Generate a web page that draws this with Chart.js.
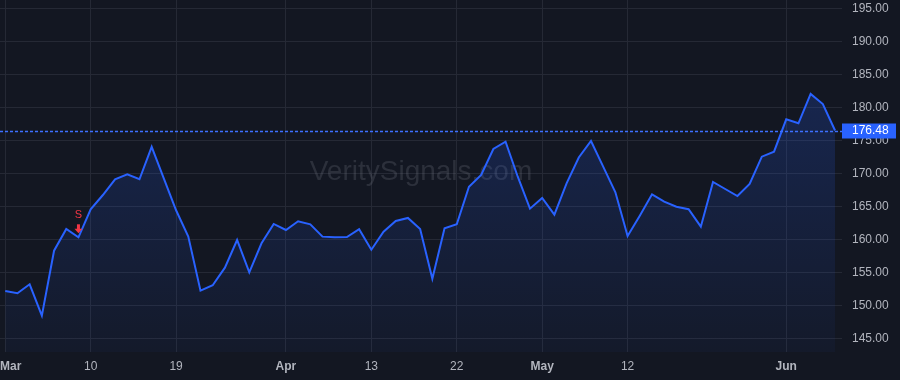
<!DOCTYPE html>
<html>
<head>
<meta charset="utf-8">
<script src="https://cdn.jsdelivr.net/npm/chart.js@4.4.1/dist/chart.umd.min.js"></script>
<style>
    html, body { margin: 0; padding: 0; background: #131722; }
</style>
</head>
<body>
<canvas id="myChart" width="900" height="380"></canvas>
<script>
// daily closes, trading days from Mar 1 to Jun 7
const prices = [
    152.17, 151.82, 153.18, 148.43, 158.27, 161.56, 160.30, 164.55, 166.71, 169.09,
    169.85, 169.09, 174.00, 169.20, 164.40, 160.40, 152.21, 153.03, 155.70, 159.89,
    155.00, 159.39, 162.32, 161.41, 162.73, 162.27, 160.40, 160.30, 160.35, 161.52,
    158.42, 161.15, 162.77, 163.23, 161.56, 154.03, 161.67, 162.27, 167.97, 169.74,
    173.68, 174.79, 169.48, 164.64, 166.26, 163.73, 168.48, 172.40, 174.89, 171.00,
    167.12, 160.50, 163.58, 166.82, 165.70, 164.94, 164.55, 161.91, 168.68, 167.62,
    166.56, 168.38, 172.52, 173.27, 178.18, 177.58, 182.02, 180.50, 176.48
];

// x-axis labels sit on these trading-day indexes
const tickIdx = [0, 7, 14, 23, 30, 37, 44, 51, 64];
const tickText = ["Mar", "10", "19", "Apr", "13", "22", "May", "12", "Jun"];

// signal markers
const signalIdx = [6];
const signalText = ["S"];

const watermark = "VeritySignals.com";

const FONT = "'Liberation Sans', Arial, sans-serif";
const lineColor = "#2962ff";
const gridColor = "#252935";
const textColor = "#b2b5be";

// background, watermark, last price line/label, signals and x labels
const decor = {
    id: "decor",
    beforeDraw(chart) {
        const c = chart.ctx;
        c.save();
        c.fillStyle = "#131722";
        c.fillRect(0, 0, chart.width, chart.height);
        c.restore();
    },
    beforeDatasetsDraw(chart) {
        const c = chart.ctx;
        const a = chart.chartArea;
        c.save();
        c.font = "28px " + FONT;
        c.fillStyle = "rgba(120, 123, 134, 0.25)";
        c.textAlign = "center";
        c.textBaseline = "middle";
        c.fillText(watermark, (a.left + a.right) / 2, (a.top + a.bottom) / 2 - 4);
        c.restore();
    },
    afterDatasetsDraw(chart) {
        const c = chart.ctx;
        const a = chart.chartArea;
        const xs = chart.scales.x;
        const ys = chart.scales.y;
        const last = prices[prices.length - 1];
        const yl = Math.round(ys.getPixelForValue(last)) + 0.5;

        c.save();
        // dashed last price line
        c.strokeStyle = "#3d70ff";
        c.lineWidth = 1.3;
        c.setLineDash([3, 2]);
        c.beginPath();
        c.moveTo(a.left, yl);
        c.lineTo(a.right, yl);
        c.stroke();
        c.setLineDash([]);

        // signal markers
        c.fillStyle = "#f23645";
        c.font = "11px " + FONT;
        c.textAlign = "center";
        c.textBaseline = "middle";
        signalIdx.forEach((idx, k) => {
            const px = xs.getPixelForValue(idx);
            const py = ys.getPixelForValue(prices[idx]);
            c.fillText(signalText[k], px, py - 22);
            c.fillRect(px - 1.5, py - 13, 3, 5);
            c.beginPath();
            c.moveTo(px - 4, py - 8.5);
            c.lineTo(px + 4, py - 8.5);
            c.lineTo(px, py - 4);
            c.closePath();
            c.fill();
        });
        c.restore();
    },
    afterDraw(chart) {
        const c = chart.ctx;
        const a = chart.chartArea;
        const xs = chart.scales.x;
        const ys = chart.scales.y;
        const last = prices[prices.length - 1];
        const yl = ys.getPixelForValue(last);

        c.save();
        // last price label on the axis
        c.fillStyle = lineColor;
        c.fillRect(a.right, Math.round(yl) - 7.5, 54, 15);
        c.fillStyle = "#ffffff";
        c.font = "12px " + FONT;
        c.textAlign = "left";
        c.textBaseline = "middle";
        c.fillText(last.toFixed(2), a.right + 10, yl + 0.5);

        // x labels, month names in bold, first one kept inside the canvas
        c.fillStyle = textColor;
        c.textAlign = "left";
        tickIdx.forEach((idx, k) => {
            const t = tickText[k];
            c.font = (isNaN(t) ? "bold " : "") + "12px " + FONT;
            const w = c.measureText(t).width;
            let left = xs.getPixelForValue(idx) - w / 2;
            if (left < 0) left = 0;
            c.fillText(t, left, a.bottom + 15);
        });
        c.restore();
    }
};

const ctx = document.getElementById("myChart");

const myChart = new Chart(ctx, {
    type: "line",
    data: {
        datasets: [
            {
                data: prices.map((v, i) => ({ x: i, y: v })),
                borderColor: lineColor,
                borderWidth: 2,
                pointRadius: 0,
                tension: 0,
                fill: "start",
                backgroundColor: (context) => {
                    const area = context.chart.chartArea;
                    if (!area) return "rgba(41, 98, 255, 0.15)";
                    const g = context.chart.ctx.createLinearGradient(0, area.top, 0, area.bottom);
                    g.addColorStop(0, "rgba(41, 98, 255, 0.26)");
                    g.addColorStop(1, "rgba(41, 98, 255, 0.04)");
                    return g;
                }
            }
        ]
    },
    options: {
        responsive: false,
        animation: false,
        devicePixelRatio: 1,
        layout: { padding: { left: 0, top: 0, right: 0, bottom: 28 } },
        scales: {
            x: {
                type: "linear",
                min: -0.43,
                max: 68.57,
                grid: { color: gridColor, drawTicks: false },
                border: { display: false },
                ticks: { display: false },
                afterBuildTicks: (scale) => {
                    scale.ticks = tickIdx.map(v => ({ value: v }));
                },
                afterFit: (scale) => {
                    scale.height = 0;
                    scale.paddingLeft = 0;
                    scale.paddingRight = 0;
                }
            },
            y: {
                position: "right",
                min: 142.92,
                max: 196.26,
                grid: { color: gridColor, drawTicks: false },
                border: { display: false },
                ticks: {
                    stepSize: 5,
                    includeBounds: false,
                    padding: 10,
                    color: textColor,
                    font: { size: 12, family: FONT },
                    callback: (v) => v.toFixed(2)
                },
                afterFit: (scale) => {
                    scale.width = 58;
                    scale.paddingTop = 0;
                    scale.paddingBottom = 0;
                }
            }
        },
        plugins: {
            legend: { display: false },
            tooltip: { enabled: false }
        }
    },
    plugins: [decor]
});
</script>
</body>
</html>
